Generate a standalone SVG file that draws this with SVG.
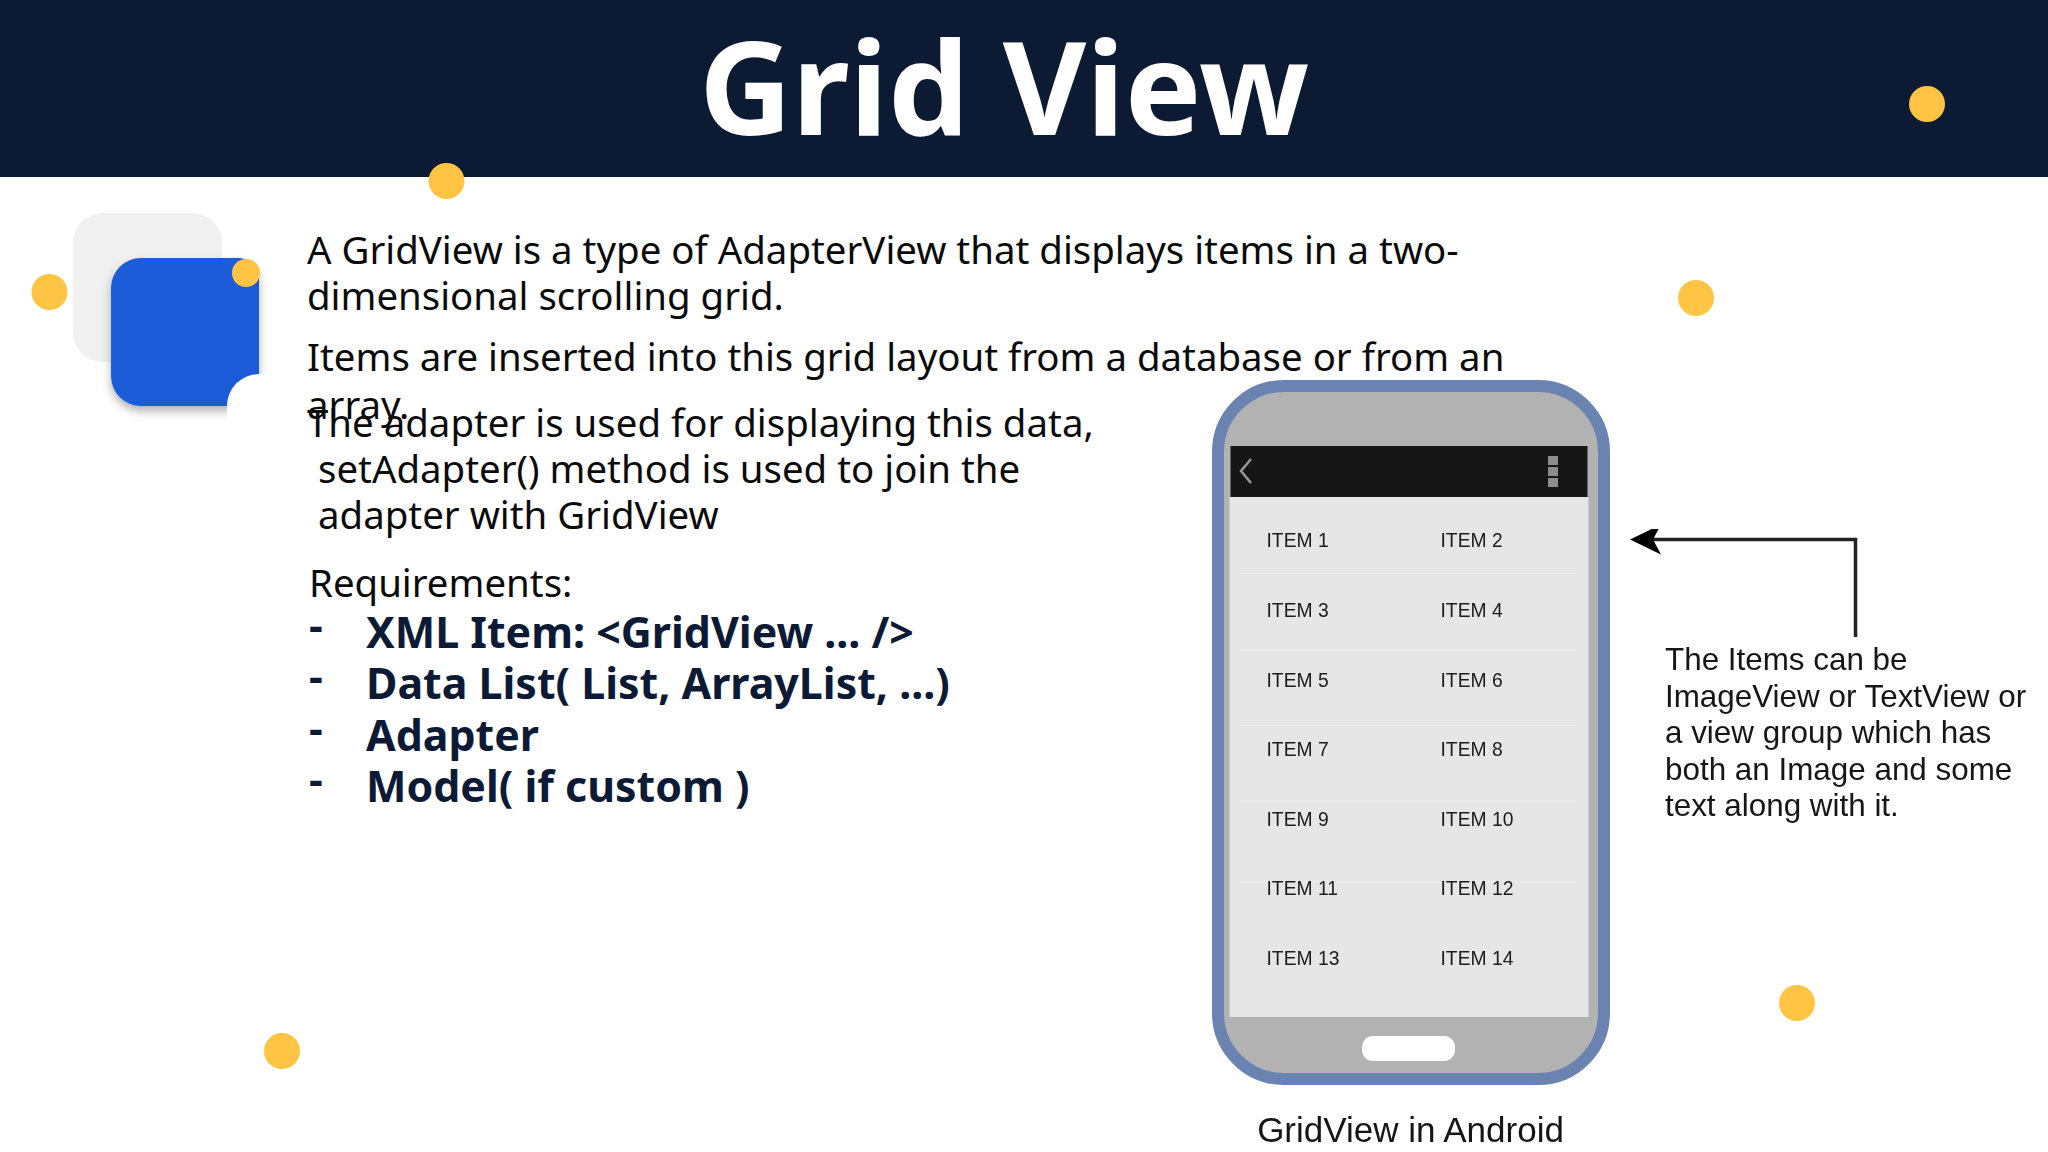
<svg xmlns="http://www.w3.org/2000/svg" width="2048" height="1152" viewBox="0 0 2048 1152">
<defs>
<style>
.b{font-family:"Noto Sans","Liberation Sans",sans-serif;font-size:38.4px;fill:#0b0b0b}
.r{font-family:"Noto Sans","Liberation Sans",sans-serif;font-size:42.9px;font-weight:700;fill:#0c1a35}
.d{fill:#ffc444}
.i{font-family:"Liberation Sans",Arial,sans-serif;font-size:19.3px;fill:#1a1a1a}
.c{font-family:"Liberation Sans",Arial,sans-serif;font-size:31.4px;fill:#161616}
.g{stroke:#eeeeee;stroke-width:1.2}
</style>
<filter id="sh" x="-20%" y="-20%" width="140%" height="140%"><feDropShadow dx="0" dy="5" stdDeviation="5" flood-color="#000" flood-opacity="0.3"/></filter>
<filter id="soft"><feGaussianBlur stdDeviation="0.55"/></filter>
<marker id="ah" markerUnits="userSpaceOnUse" markerWidth="32" markerHeight="32" refX="16" refY="16" orient="auto"><path d="M31 16 L0 1 L8 16 L0 31 Z" fill="#000"/></marker>
</defs>
<rect width="2048" height="1152" fill="#fff"/>
<g id="header"><rect width="2048" height="177" fill="#0c1a33"/>
<text x="1004" y="135" text-anchor="middle" font-family="Noto Sans, Liberation Sans, sans-serif" font-size="128.6" font-weight="700" fill="#fff">Grid View</text></g>
<g id="icon">
<rect x="73" y="213" width="149" height="149" rx="30" fill="#f0f0f0"/>
<path filter="url(#sh)" d="M141 258H239A20 20 0 0 1 259 278V406H141A30 30 0 0 1 111 376V288A30 30 0 0 1 141 258Z" fill="#1b5bd8"/>
<path d="M227 420V406A32 32 0 0 1 259 374H270V420Z" fill="#fff"/>
</g>
<g id="dots">
<circle class="d" cx="446.500" cy="181" r="18"/><circle class="d" cx="49.500" cy="292" r="18"/><circle class="d" cx="246" cy="273" r="14"/>
<circle class="d" cx="1927" cy="104" r="18"/><circle class="d" cx="1696" cy="298" r="18"/><circle class="d" cx="1797" cy="1003" r="18"/><circle class="d" cx="282" cy="1051" r="18"/>
</g>
<g id="body">
<text class="b" x="307" y="264">A GridView is a type of AdapterView that displays items in a two-</text>
<text class="b" x="307" y="310">dimensional scrolling grid.</text>
<text class="b" x="307" y="371">Items are inserted into this grid layout from a database or from an</text>
<text class="b" x="307" y="418.500">array.</text>
<text class="b" x="307" y="437">The adapter is used for displaying this data,</text>
<text class="b" x="318" y="483">setAdapter() method is used to join the</text>
<text class="b" x="318" y="529">adapter with GridView</text>
<text class="b" x="309" y="597">Requirements:</text>
</g>
<g id="requirements">
<text class="r" x="309" y="641">-</text><text class="r" x="366" y="648">XML Item: &lt;GridView ... /&gt;</text>
<text class="r" x="309" y="692">-</text><text class="r" x="366" y="699">Data List( List, ArrayList, ...)</text>
<text class="r" x="309" y="744">-</text><text class="r" x="366" y="751">Adapter</text>
<text class="r" x="309" y="795">-</text><text class="r" x="366" y="802">Model( if custom )</text>
</g>
<g id="phone" filter="url(#soft)">
<rect x="1218" y="386" width="386" height="693" rx="66" fill="#b2b2b2" stroke="#6a83b0" stroke-width="12"/>
<rect x="1229.500" y="497" width="359" height="520" fill="#e6e6e6"/>
<rect x="1230.500" y="446" width="357" height="51" fill="#171717"/>
<path d="M1251 459L1241 471L1251 483" fill="none" stroke="#999" stroke-width="2.500"/>
<rect x="1548" y="456" width="10" height="9" fill="#8c8c8c"/><rect x="1548" y="467" width="10" height="9" fill="#8c8c8c"/><rect x="1548" y="478" width="10" height="9" fill="#8c8c8c"/>
<path class="g" d="M1240 573.500H1577M1240 650H1577M1240 725.500H1577M1240 800.500H1577M1240 882H1577"/>
<rect x="1362" y="1036" width="93" height="25" rx="11" fill="#fff"/>
<text class="i" x="1266.500" y="547">ITEM 1</text><text class="i" x="1440.500" y="547">ITEM 2</text>
<text class="i" x="1266.500" y="617">ITEM 3</text><text class="i" x="1440.500" y="617">ITEM 4</text>
<text class="i" x="1266.500" y="686.500">ITEM 5</text><text class="i" x="1440.500" y="686.500">ITEM 6</text>
<text class="i" x="1266.500" y="756">ITEM 7</text><text class="i" x="1440.500" y="756">ITEM 8</text>
<text class="i" x="1266.500" y="825.500">ITEM 9</text><text class="i" x="1440.500" y="825.500">ITEM 10</text>
<text class="i" x="1266.500" y="895">ITEM 11</text><text class="i" x="1440.500" y="895">ITEM 12</text>
<text class="i" x="1266.500" y="965">ITEM 13</text><text class="i" x="1440.500" y="965">ITEM 14</text>
</g>
<g id="connectors" filter="url(#soft)"><path d="M1855.500 637V539.500H1645" fill="none" stroke="#222" stroke-width="3.500" marker-end="url(#ah)"/></g>
<g id="callout" filter="url(#soft)">
<text class="c" x="1665" y="670">The Items can be</text>
<text class="c" x="1665" y="707">ImageView or TextView or</text>
<text class="c" x="1665" y="743">a view group which has</text>
<text class="c" x="1665" y="780">both an Image and some</text>
<text class="c" x="1665" y="816">text along with it.</text>
</g>
<g id="caption" filter="url(#soft)"><text x="1410.500" y="1141.500" text-anchor="middle" font-family="Liberation Sans, Arial, sans-serif" font-size="35" fill="#161616">GridView in Android</text></g>
</svg>
